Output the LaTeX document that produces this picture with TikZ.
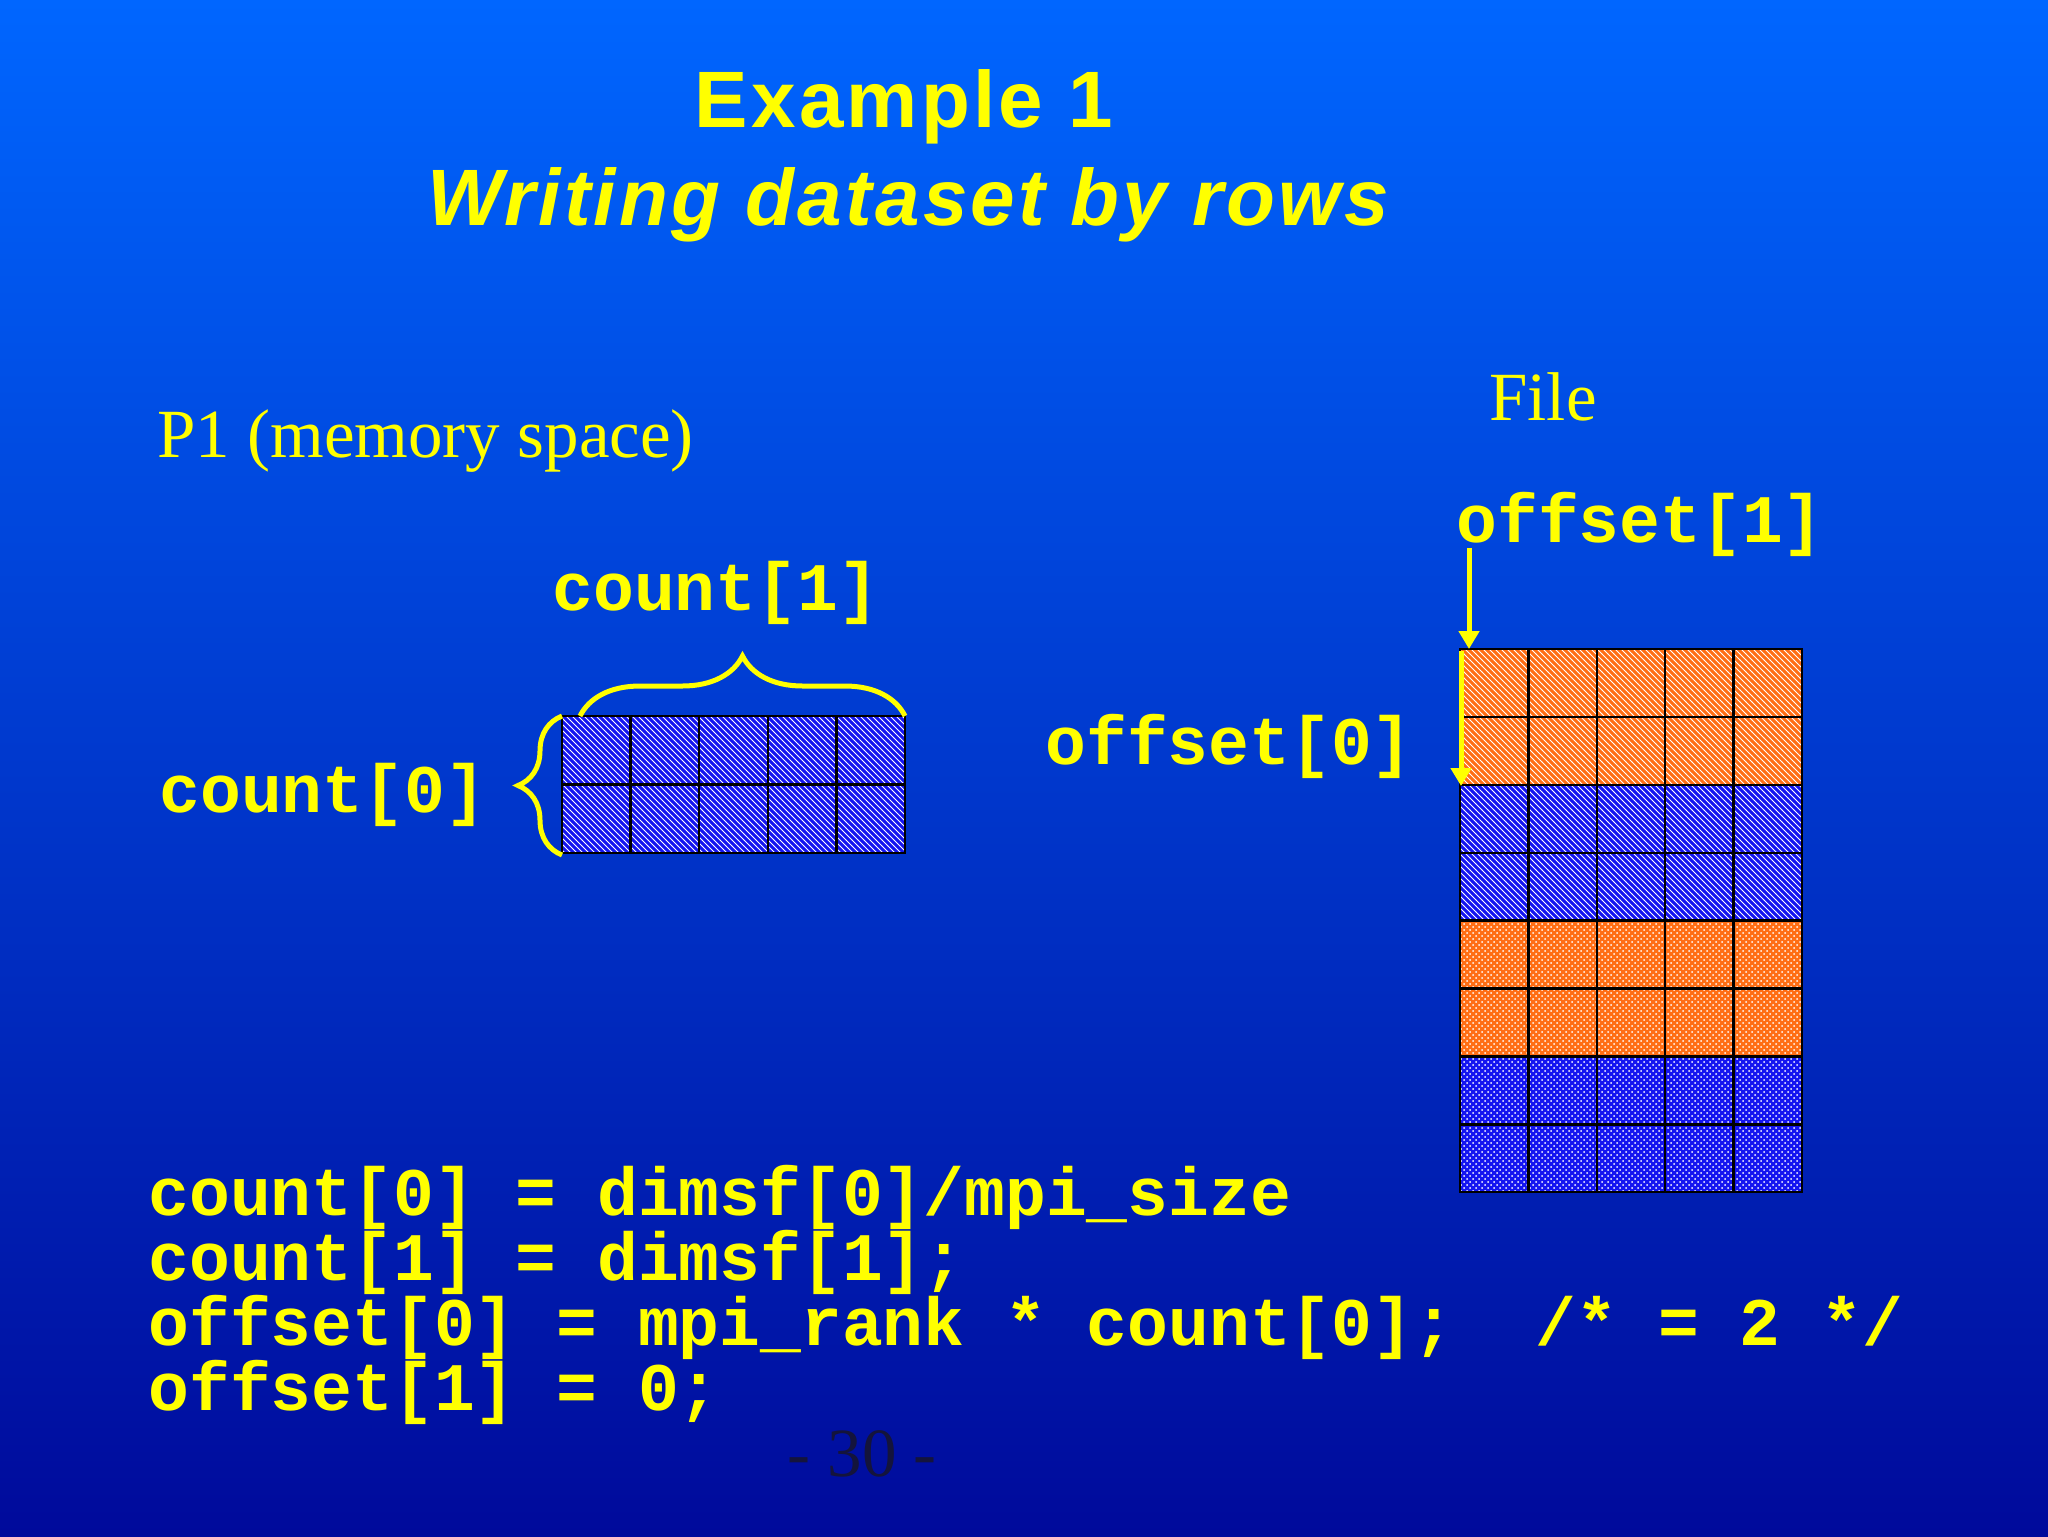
\documentclass[tikz,border=0pt]{standalone}
\usepackage{fontspec}
\setmainfont{Liberation Serif}
\setsansfont{Liberation Sans}
\setmonofont{Liberation Mono}
\usetikzlibrary{patterns,decorations.pathreplacing,arrows.meta}
\definecolor{yel}{RGB}{255,255,0}
\definecolor{org}{RGB}{255,110,20}
\definecolor{blu}{RGB}{20,20,240}
\tikzset{
  code/.style={text=yel,font=\ttfamily\bfseries\fontsize{34}{40}\selectfont,anchor=base west,inner sep=0},
  cellbox/.style={draw=black,line width=1.2pt},
  arr/.style={draw=yel,line width=2.5pt,-{Triangle[length=9pt,width=10pt]}},
  brc/.style={draw=yel,line width=2.5pt,decorate,decoration={brace,amplitude=#1}}
}
\begin{document}
\begin{tikzpicture}[x=0.5pt,y=-0.5pt]
\shade[top color={rgb,255:red,0;green,102;blue,255},bottom color={rgb,255:red,0;green,10;blue,155}] (0,0) rectangle (2048,1536);
\useasboundingbox (0,0) rectangle (2048,1536);
\node[text=yel,font=\sffamily\bfseries\fontsize{40}{48}\selectfont\addfontfeature{LetterSpace=4}] (t1) at (904,107) {Example 1};
\node[text=yel,font=\sffamily\bfseries\itshape\fontsize{40}{48}\selectfont\addfontfeature{LetterSpace=4}] (t2) at (908,205) {Writing dataset by rows};
\node[text=yel,font=\fontsize{34.5}{42}\selectfont,anchor=base west,inner sep=0] (p1) at (157,457) {P1 (memory space)};
\node[text=yel,font=\fontsize{34.5}{42}\selectfont,anchor=base west,inner sep=0] (file) at (1489,420) {File};
% memory grid
\foreach \c in {0,...,4} \foreach \r in {0,1} {
  \fill[blu] (562+\c*68.6,716+\r*68.5) rectangle ++(68.6,68.5);
  \fill[pattern=north west lines,pattern color=white] (562+\c*68.6,716+\r*68.5) rectangle ++(68.6,68.5);
  \draw[cellbox] (562+\c*68.6,716+\r*68.5) rectangle ++(68.6,68.5);
}
\node[inner sep=0,minimum width=343pt*0.5,minimum height=137pt*0.5,anchor=north west] (mem) at (562,716) {};
\draw[brc=30pt] (580,716) -- (905,716);
\draw[brc=22pt] (562,855) -- (562,716);
\node[code] (c1) at (552,610) {count[1]};
\node[code] (c0) at (159,812) {count[0]};
% file grid
\foreach \r/\bg/\pat in {0/org/north west lines,1/org/north west lines,2/blu/north west lines,3/blu/north west lines,4/org/crosshatch dots,5/org/crosshatch dots,6/blu/crosshatch dots,7/blu/crosshatch dots}
 \foreach \c in {0,...,4} {
  \fill[\bg] (1460+\c*68.4,649+\r*67.9) rectangle ++(68.4,67.9);
  \fill[pattern=\pat,pattern color=white] (1460+\c*68.4,649+\r*67.9) rectangle ++(68.4,67.9);
  \draw[cellbox] (1460+\c*68.4,649+\r*67.9) rectangle ++(68.4,67.9);
 }
\node[inner sep=0,minimum width=342pt*0.5,minimum height=543pt*0.5,anchor=north west] (fgrid) at (1460,649) {};
\node[code] (o1) at (1456,542) {offset[1]};
\node[code] (o0) at (1045,764) {offset[0]};
\coordinate (a1s) at (1469,548);
\draw[arr] (a1s) -- (fgrid.north west -| a1s);
\coordinate (a0s) at (1461,651);
\coordinate (a0e) at (1461,786);
\draw[arr] (a0s) -- (a0e);
\node[code] (l1) at (148,1215) {count[0] = dimsf[0]/mpi\_size};
\node[code] (l2) at (148,1280) {count[1] = dimsf[1];};
\node[code] (l3) at (148,1345) {offset[0] = mpi\_rank * count[0];\ \ /* = 2 */};
\node[code] (l4) at (148,1410) {offset[1] = 0;};
\node[text={rgb,255:red,20;green,20;blue,60},font=\fontsize{34.5}{42}\selectfont,anchor=base,inner sep=0] (pg) at (862,1476) {- 30 -};
\end{tikzpicture}
\end{document}
